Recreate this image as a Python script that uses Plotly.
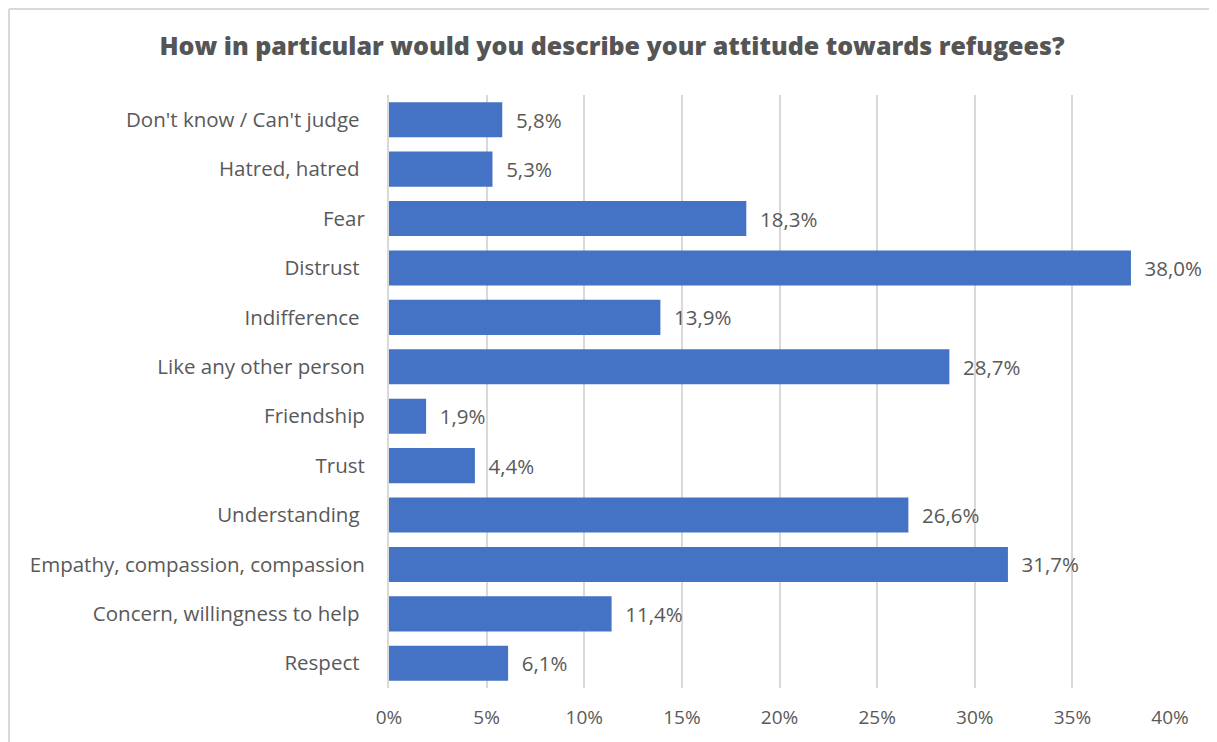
import plotly.graph_objects as go

categories = [
    "Don't know / Can't judge\u00a0",
    "Hatred, hatred\u00a0",
    "Fear",
    "Distrust\u00a0",
    "Indifference\u00a0",
    "Like any other person",
    "Friendship",
    "Trust",
    "Understanding\u00a0",
    "Empathy, compassion, compassion",
    "Concern, willingness to help\u00a0",
    "Respect\u00a0",
]
values = [5.8, 5.3, 18.3, 38.0, 13.9, 28.7, 1.9, 4.4, 26.6, 31.7, 11.4, 6.1]
tick_vals = [0, 5, 10, 15, 20, 25, 30, 35, 40]
tick_text = [f"{v}%" for v in tick_vals]
title_text = "How in particular would you describe your attitude towards refugees?"

labels = ["  " + f"{v:.1f}".replace(".", ",") + "%" for v in values]

# the page body adds an 8px offset, so the figure is 8px smaller
OFF = 8
W, H = 1217 - OFF, 742 - OFF
L, R, T, B = 389 - OFF, 47, 95 - OFF, 54

FONT = "Open Sans"
GREY = "#595959"

fig = go.Figure(
    go.Bar(
        x=values,
        y=categories,
        orientation="h",
        marker=dict(color="#4472C4", line=dict(width=0)),
        width=0.71,
        text=labels,
        textposition="outside",
        textfont=dict(family=FONT, size=20.5, color=GREY),
        cliponaxis=False,
        hoverinfo="skip",
    )
)

fig.update_layout(
    width=W,
    height=H,
    margin=dict(l=L, r=R, t=T, b=B, pad=0),
    paper_bgcolor="white",
    plot_bgcolor="white",
    showlegend=False,
    title=dict(
        text=title_text,
        x=(612 - OFF) / W,
        xref="container",
        xanchor="center",
        y=1 - (46 - OFF) / H,
        yref="container",
        yanchor="middle",
        font=dict(family=FONT, size=25, color="#555555", weight=800),
    ),
    xaxis=dict(
        range=[0, 40],
        tickvals=tick_vals,
        ticktext=tick_text,
        showgrid=True,
        gridcolor="#d9d9d9",
        gridwidth=2,
        zeroline=False,
        showline=False,
        ticks="",
        ticklabelstandoff=16,
        tickfont=dict(family=FONT, size=19, color=GREY),
        fixedrange=True,
    ),
    yaxis=dict(
        autorange="reversed",
        showgrid=False,
        showline=True,
        linecolor="#d9d9d9",
        linewidth=2,
        ticks="",
        ticklabelstandoff=18,
        tickfont=dict(family=FONT, size=20.5, color=GREY),
        fixedrange=True,
    ),
)

pw = W - L - R
ph = H - T - B
# outer chart border (partially cropped in the reference)
x_left = (1 - L) / pw
y_top = (H - B - 1) / ph
fig.add_shape(type="line", xref="paper", yref="paper",
              x0=x_left, x1=(W + 5 - L) / pw, y0=y_top, y1=y_top,
              line=dict(color="#d9d9d9", width=2))
fig.add_shape(type="line", xref="paper", yref="paper",
              x0=x_left, x1=x_left, y0=y_top, y1=(-B - 5) / ph,
              line=dict(color="#d9d9d9", width=2))

fig.write_html("out.html")
